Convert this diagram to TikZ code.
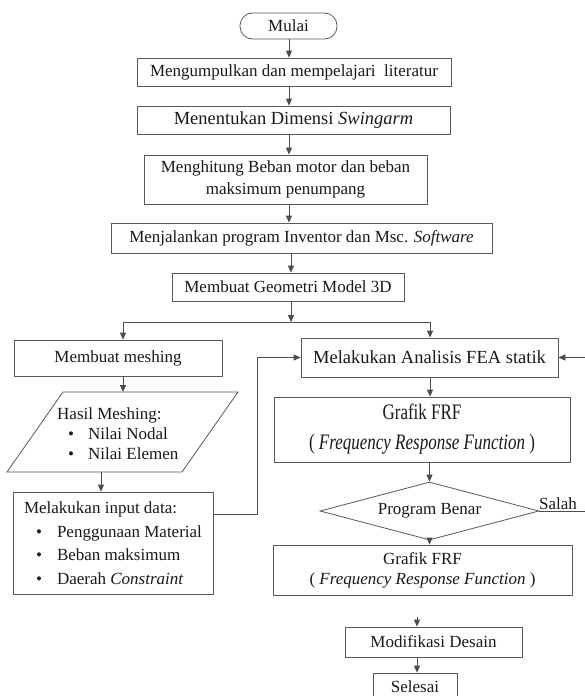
\documentclass[tikz,border=0pt]{standalone}
\usepackage{fontspec}
\setmainfont{Liberation Serif}
\usetikzlibrary{arrows.meta,shapes.geometric}
\begin{document}
\begin{tikzpicture}[x=1pt,y=-1pt,
  line/.style={draw=black!70, line width=0.8pt},
  arr/.style={line, -{Triangle[length=7pt,width=6pt]}},
  box/.style={draw=black!65, line width=0.8pt, rectangle, inner sep=0pt,
    align=center, text=black!90, font=\fontsize{17}{21}\selectfont},
  plain/.style={inner sep=0pt, text=black!90, font=\fontsize{17}{20}\selectfont},
]
\useasboundingbox (0,0) rectangle (585,696);
\fill[white] (0,0) rectangle (585,696);

% nodes
\node[box, rounded corners=12.5pt, minimum width=97pt, minimum height=26pt] (mulai) at (288.5,26) {Mulai};
\node[box, minimum width=314pt, minimum height=28pt] (b1) at (294,72) {Mengumpulkan dan mempelajari\ \ literatur};
\node[box, minimum width=313pt, minimum height=28pt, font=\fontsize{18.5}{21}\selectfont] (b2) at (293.5,120) {Menentukan Dimensi \textit{Swingarm}};
\node[box, minimum width=283pt, minimum height=49pt, font=\fontsize{17}{22}\selectfont] (b3) at (285.5,179.5) {Menghitung Beban motor dan beban\\maksimum penumpang};
\node[box, minimum width=381pt, minimum height=30pt] (b4) at (301.5,238) {Menjalankan program Inventor dan Msc. \textit{Software}};
\node[box, minimum width=232pt, minimum height=28pt] (b5) at (288,287) {Membuat Geometri Model 3D};
\node[box, minimum width=208pt, minimum height=36pt] (mesh) at (118,358) {Membuat meshing};
\node[box, minimum width=257pt, minimum height=39pt, font=\fontsize{18.5}{21}\selectfont] (fea) at (429.5,357.5) {Melakukan Analisis FEA statik};
\node[box, minimum width=296pt, minimum height=65pt, font=\fontsize{17}{30}\selectfont] (frf1) at (422,429.5)
  {\scalebox{1}[1.3]{Grafik FRF}\\\scalebox{1}[1.3]{( \textit{Frequency Response Function} )}};
\node[box, shape=diamond, aspect=3.78, minimum width=219pt, minimum height=58pt] (dia) at (429.5,511) {Program Benar};
\node[box, minimum width=299pt, minimum height=50pt, font=\fontsize{17}{20}\selectfont] (frf2) at (422.5,570)
  {Grafik FRF\\( \textit{Frequency Response Function} )};
\node[box, minimum width=177pt, minimum height=30pt] (mod) at (433.5,642) {Modifikasi Desain};
\node[box, minimum width=84pt, minimum height=28pt] (sel) at (415,687) {Selesai};
\node[box, align=left, minimum width=200pt, minimum height=102pt, font=\fontsize{17}{23.5}\selectfont] (inp) at (113,543)
  {Melakukan input data:\\
   \hspace*{12pt}\textbullet\hspace*{15pt}Penggunaan Material\\
   \hspace*{12pt}\textbullet\hspace*{15pt}Beban maksimum\\
   \hspace*{12pt}\textbullet\hspace*{15pt}Daerah \textit{Constraint}};

% parallelogram
\draw[line, draw=black!65] (63,392) -- (238,392) -- (182,472) -- (7,472) -- cycle;
\node[plain, align=left, anchor=north west] (hasil) at (57,407)
  {Hasil Meshing:\\
   \hspace*{11pt}\textbullet\hspace*{14pt}Nilai Nodal\\
   \hspace*{11pt}\textbullet\hspace*{14pt}Nilai Elemen};
\coordinate (ptop) at (123,392);
\coordinate (pbot) at (101,472);

\node[plain, anchor=base] (salah) at (558,509) {Salah};

% connectors
\coordinate (ax) at (289,0);
\coordinate (ax2) at (291,0);
\draw[arr] (mulai.south -| ax) -- (b1.north -| ax);
\draw[arr] (b1.south -| ax) -- (b2.north -| ax);
\draw[arr] (b2.south -| ax) -- (b3.north -| ax);
\draw[arr] (b3.south -| ax) -- (b4.north -| ax);
\draw[arr] (b4.south -| ax2) -- (b5.north -| ax2);

\coordinate (spl) at (123,322);
\coordinate (spr) at (430,322);
\draw[line] (spl) -- (spr);
\draw[arr] (b5.south -| ax2) -- (ax2 |- spl);
\draw[arr] (spl) -- (mesh.north -| spl);
\draw[arr] (spr) -- (fea.north -| spr);
\draw[arr] (mesh.south -| spl) -- (ptop);
\draw[arr] (pbot) -- (inp.north -| pbot);

\coordinate (j1) at (257,514);
\draw[arr] (inp.east |- j1) -- (j1) -- (j1 |- fea.west) -- (fea.west);

\draw[arr] (fea.south -| spr) -- (frf1.north -| spr);
\draw[arr] (frf1.south -| dia.north) -- (dia.north);
\draw[arr] (dia.south) -- (frf2.north -| dia.south);

\coordinate (rc) at (585,511);
\draw[arr] (dia.east) -- (rc) -- (rc |- fea.east) -- (fea.east);

\coordinate (gs) at (417,617);
\draw[arr] (gs) -- (gs |- mod.north);
\draw[arr] (mod.south -| gs) -- (sel.north -| gs);
\end{tikzpicture}
\end{document}
